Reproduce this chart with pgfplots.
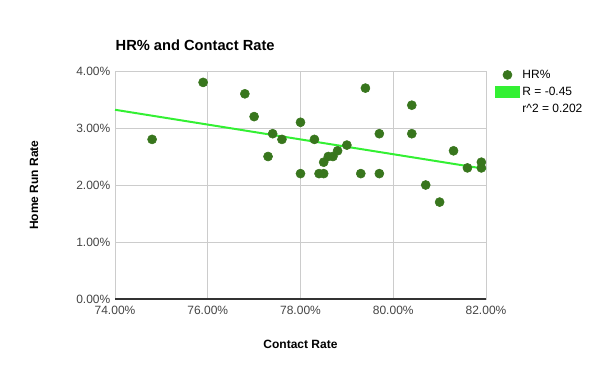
\documentclass[border=0pt]{standalone}
\usepackage{pgfplots}
\pgfplotsset{compat=1.18}
\usepackage{fontspec}
\setmainfont{Liberation Sans}
\definecolor{dotgreen}{RGB}{56,118,29}
\definecolor{trend}{RGB}{51,240,51}
\definecolor{gridgray}{RGB}{204,204,204}
\definecolor{ticktext}{RGB}{68,68,68}
\begin{document}
\begin{tikzpicture}
\useasboundingbox (0,0) rectangle (450pt,278.25pt);
\begin{axis}[
  at={(86.25pt,54pt)}, anchor=south west,
  scale only axis, width=278.25pt, height=171pt,
  xmin=74, xmax=82, ymin=0, ymax=4,
  xtick={74,76,78,80,82}, ytick={0,1,2,3,4},
  grid=major, major grid style={gridgray, line width=0.6pt},
  axis line style={gridgray, line width=0.6pt},
  tick style={draw=none},
  /pgf/number format/assume math mode=true,
  xticklabel={\pgfmathprintnumber[fixed,fixed zerofill,precision=2]{\tick}\%},
  yticklabel={\pgfmathprintnumber[fixed,fixed zerofill,precision=2]{\tick}\%},
  ticklabel style={font=\fontsize{9}{10}\selectfont, text=ticktext},
  xticklabel style={yshift=-2pt},
  title={\textbf{HR\% and Contact Rate}},
  title style={at={(axis description cs:0,1)}, anchor=west, yshift=13.5pt, xshift=-3pt, font=\fontsize{11}{13}\selectfont},
  xlabel={\textbf{Contact Rate}},
  ylabel={\textbf{Home Run Rate}},
  xlabel style={at={(axis description cs:0.5,-0.197)}, anchor=center, font=\fontsize{9}{11}\selectfont},
  ylabel style={at={(axis description cs:-0.218,0.5)}, anchor=center, font=\fontsize{9}{11}\selectfont},
  legend style={at={(axis description cs:1.013,1.03)}, anchor=north west, draw=none, fill=none,
    font=\fontsize{9}{11}\selectfont, row sep=1pt},
  legend cell align=left,
  clip=false,
]
\addplot[only marks, mark=*, mark size=3.4pt, mark options={fill=dotgreen, draw=dotgreen}] coordinates {
(74.8,2.8) (75.9,3.8) (76.8,3.6) (77.0,3.2) (77.3,2.5) (77.4,2.9) (77.6,2.8)
(78.0,3.1) (78.0,2.2) (78.3,2.8) (78.4,2.2) (78.5,2.2) (78.5,2.4) (78.6,2.5)
(78.7,2.5) (78.8,2.6) (79.0,2.7) (79.4,3.7) (79.3,2.2) (79.7,2.9) (79.7,2.2)
(80.4,3.4) (80.4,2.9) (80.7,2.0) (81.0,1.7) (81.3,2.6) (81.6,2.3) (81.9,2.4) (81.9,2.3)
};
\addlegendentry{HR\%}
\addplot[trend, line width=1.5pt, legend image code/.code={\fill[trend] (0pt,-3.5pt) rectangle (17pt,3.5pt);}] coordinates {(74,3.32) (82,2.28)};
\addlegendentry{R = -0.45}
\addlegendimage{empty legend}
\addlegendentry{r\^{}2 = 0.202}
\draw[black!80, line width=0.8pt] (axis cs:74,0) -- (axis cs:82,0);
\end{axis}
\end{tikzpicture}
\end{document}
